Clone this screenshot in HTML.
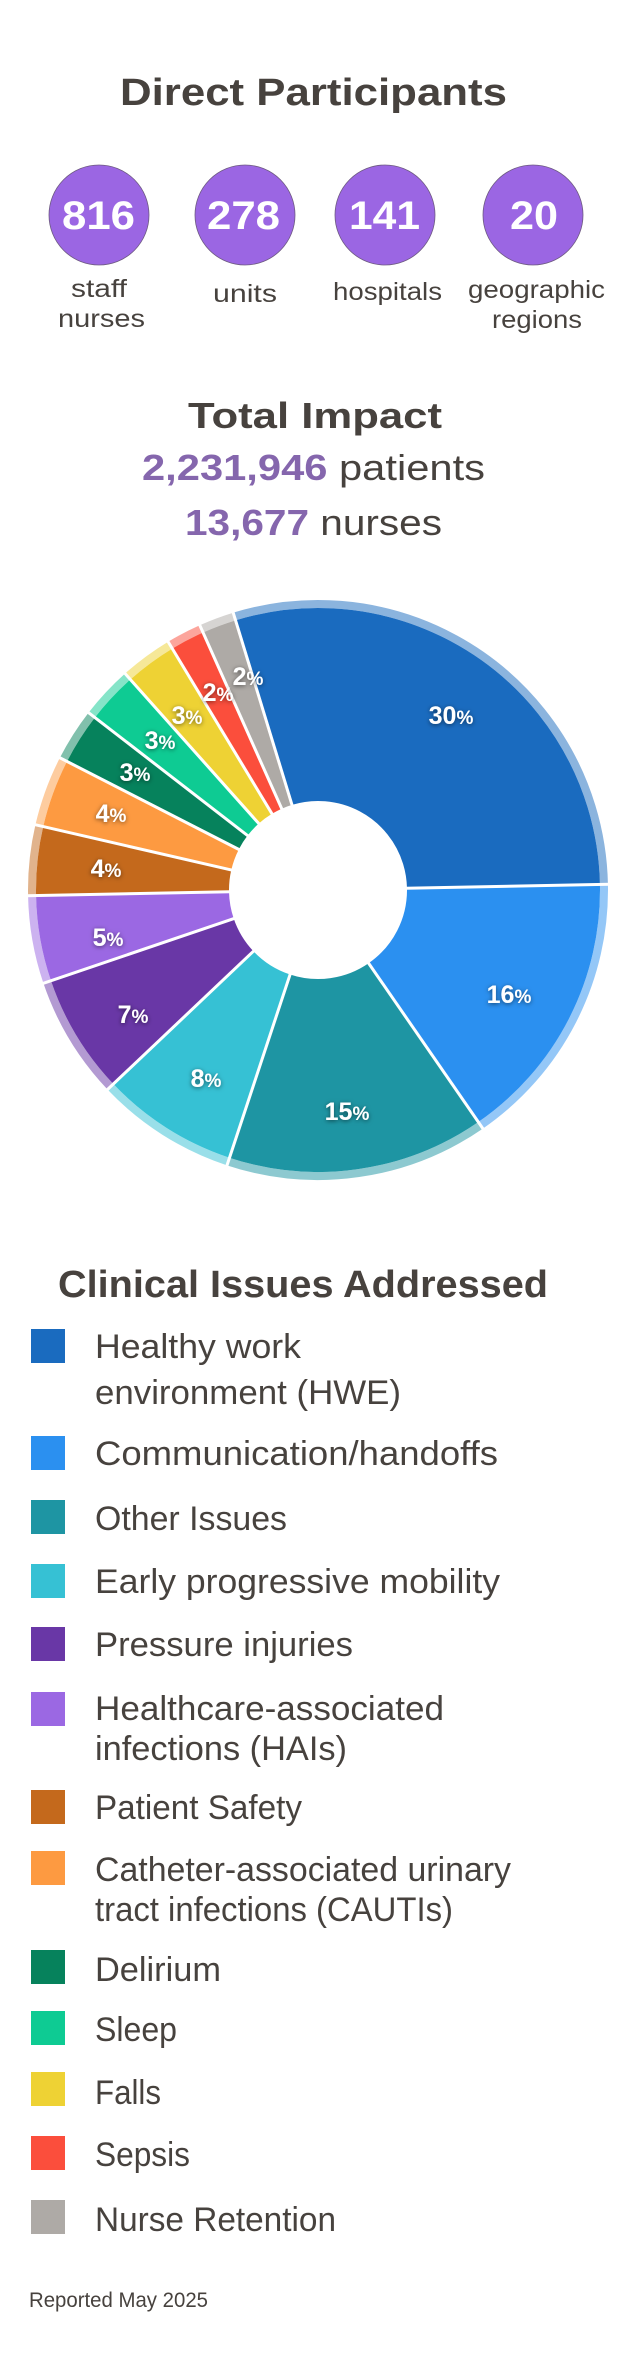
<!DOCTYPE html>
<html><head><meta charset="utf-8"><style>
html,body{margin:0;padding:0;background:#fff;}
svg{display:block;}
text{font-family:"Liberation Sans",sans-serif;}
</style></head><body>
<svg width="640" height="2379" viewBox="0 0 640 2379" xmlns="http://www.w3.org/2000/svg">
<defs>
<filter id="sh" x="-30%" y="-30%" width="160%" height="160%">
<feDropShadow dx="0" dy="1" stdDeviation="2.5" flood-color="#000" flood-opacity="0.55"/>
</filter>
</defs>
<rect width="640" height="2379" fill="#fff"/>

<text x="120" y="105" font-size="38" font-weight="bold" fill="#47423e" textLength="387" lengthAdjust="spacingAndGlyphs">Direct Participants</text>

<g fill="#9b66e3" stroke="#6d5a80" stroke-width="0.8">
<circle cx="99" cy="215" r="50"/><circle cx="245" cy="215" r="50"/><circle cx="385" cy="215" r="50"/><circle cx="533" cy="215" r="50"/>
</g>
<g font-size="40" font-weight="bold" fill="#fff">
<text x="62" y="229" textLength="73" lengthAdjust="spacingAndGlyphs">816</text>
<text x="207" y="229" textLength="73" lengthAdjust="spacingAndGlyphs">278</text>
<text x="349" y="229" textLength="71" lengthAdjust="spacingAndGlyphs">141</text>
<text x="510" y="229" textLength="48" lengthAdjust="spacingAndGlyphs">20</text>
</g>
<g font-size="25" fill="#47423e">
<text x="71" y="297" textLength="56" lengthAdjust="spacingAndGlyphs">staff</text>
<text x="58" y="327" textLength="87" lengthAdjust="spacingAndGlyphs">nurses</text>
<text x="213" y="302" textLength="64" lengthAdjust="spacingAndGlyphs">units</text>
<text x="333" y="300" textLength="109" lengthAdjust="spacingAndGlyphs">hospitals</text>
<text x="468" y="298" textLength="137" lengthAdjust="spacingAndGlyphs">geographic</text>
<text x="492" y="328" textLength="90" lengthAdjust="spacingAndGlyphs">regions</text>
</g>

<text x="188" y="428" font-size="36" font-weight="bold" fill="#47423e" textLength="254" lengthAdjust="spacingAndGlyphs">Total Impact</text>
<text x="142" y="480" font-size="36" fill="#47423e" textLength="343" lengthAdjust="spacingAndGlyphs"><tspan font-weight="bold" fill="#8566ad">2,231,946</tspan> patients</text>
<text x="185" y="535" font-size="36" fill="#47423e" textLength="257" lengthAdjust="spacingAndGlyphs"><tspan font-weight="bold" fill="#8566ad">13,677</tspan> nurses</text>

<g transform="translate(318,890)" fill="none">
<g stroke-width="8" opacity="0.5">
<circle r="286" stroke="#1a6bbf" stroke-dasharray="528.6 3000" transform="rotate(-107)"/>
<circle r="286" stroke="#2b90f0" stroke-dasharray="281.9 3000" transform="rotate(-1.12)"/>
<circle r="286" stroke="#1e95a3" stroke-dasharray="264.3 3000" transform="rotate(55.35)"/>
<circle r="286" stroke="#36c1d4" stroke-dasharray="141 3000" transform="rotate(108.29)"/>
<circle r="286" stroke="#6937a6" stroke-dasharray="123.3 3000" transform="rotate(136.53)"/>
<circle r="286" stroke="#9b68e3" stroke-dasharray="88.1 3000" transform="rotate(161.24)"/>
<circle r="286" stroke="#c4691c" stroke-dasharray="70.5 3000" transform="rotate(178.88)"/>
<circle r="286" stroke="#fd9a41" stroke-dasharray="70.5 3000" transform="rotate(193)"/>
<circle r="286" stroke="#06825c" stroke-dasharray="52.9 3000" transform="rotate(207.12)"/>
<circle r="286" stroke="#0ecb93" stroke-dasharray="52.9 3000" transform="rotate(217.71)"/>
<circle r="286" stroke="#eed234" stroke-dasharray="52.9 3000" transform="rotate(228.29)"/>
<circle r="286" stroke="#fb4e3c" stroke-dasharray="35.2 3000" transform="rotate(238.88)"/>
<circle r="286" stroke="#aeaaa6" stroke-dasharray="35.2 3000" transform="rotate(245.94)"/>
</g>
<g stroke-width="193">
<circle r="185.5" stroke="#1a6bbf" stroke-dasharray="342.8 3000" transform="rotate(-107)"/>
<circle r="185.5" stroke="#2b90f0" stroke-dasharray="182.8 3000" transform="rotate(-1.12)"/>
<circle r="185.5" stroke="#1e95a3" stroke-dasharray="171.4 3000" transform="rotate(55.35)"/>
<circle r="185.5" stroke="#36c1d4" stroke-dasharray="91.4 3000" transform="rotate(108.29)"/>
<circle r="185.5" stroke="#6937a6" stroke-dasharray="80 3000" transform="rotate(136.53)"/>
<circle r="185.5" stroke="#9b68e3" stroke-dasharray="57.1 3000" transform="rotate(161.24)"/>
<circle r="185.5" stroke="#c4691c" stroke-dasharray="45.7 3000" transform="rotate(178.88)"/>
<circle r="185.5" stroke="#fd9a41" stroke-dasharray="45.7 3000" transform="rotate(193)"/>
<circle r="185.5" stroke="#06825c" stroke-dasharray="34.3 3000" transform="rotate(207.12)"/>
<circle r="185.5" stroke="#0ecb93" stroke-dasharray="34.3 3000" transform="rotate(217.71)"/>
<circle r="185.5" stroke="#eed234" stroke-dasharray="34.3 3000" transform="rotate(228.29)"/>
<circle r="185.5" stroke="#fb4e3c" stroke-dasharray="22.9 3000" transform="rotate(238.88)"/>
<circle r="185.5" stroke="#aeaaa6" stroke-dasharray="22.9 3000" transform="rotate(245.94)"/>
</g>
<g stroke="#fff" stroke-width="3">
<line x1="0" y1="-88" x2="0" y2="-292" transform="rotate(-17)"/>
<line x1="0" y1="-88" x2="0" y2="-292" transform="rotate(88.88)"/>
<line x1="0" y1="-88" x2="0" y2="-292" transform="rotate(145.35)"/>
<line x1="0" y1="-88" x2="0" y2="-292" transform="rotate(198.29)"/>
<line x1="0" y1="-88" x2="0" y2="-292" transform="rotate(226.53)"/>
<line x1="0" y1="-88" x2="0" y2="-292" transform="rotate(251.24)"/>
<line x1="0" y1="-88" x2="0" y2="-292" transform="rotate(268.88)"/>
<line x1="0" y1="-88" x2="0" y2="-292" transform="rotate(283)"/>
<line x1="0" y1="-88" x2="0" y2="-292" transform="rotate(297.12)"/>
<line x1="0" y1="-88" x2="0" y2="-292" transform="rotate(307.71)"/>
<line x1="0" y1="-88" x2="0" y2="-292" transform="rotate(318.29)"/>
<line x1="0" y1="-88" x2="0" y2="-292" transform="rotate(328.88)"/>
<line x1="0" y1="-88" x2="0" y2="-292" transform="rotate(335.94)"/>
</g>
</g>

<g font-size="25" font-weight="bold" fill="#fff" text-anchor="middle" filter="url(#sh)" transform="translate(-2,-3)">
<text x="453" y="727">30<tspan font-size="19">%</tspan></text>
<text x="511" y="1006">16<tspan font-size="19">%</tspan></text>
<text x="349" y="1123">15<tspan font-size="19">%</tspan></text>
<text x="208" y="1090">8<tspan font-size="19">%</tspan></text>
<text x="135" y="1026">7<tspan font-size="19">%</tspan></text>
<text x="110" y="949">5<tspan font-size="19">%</tspan></text>
<text x="108" y="880">4<tspan font-size="19">%</tspan></text>
<text x="113" y="825">4<tspan font-size="19">%</tspan></text>
<text x="137" y="784">3<tspan font-size="19">%</tspan></text>
<text x="162" y="752">3<tspan font-size="19">%</tspan></text>
<text x="189" y="727">3<tspan font-size="19">%</tspan></text>
<text x="220" y="704">2<tspan font-size="19">%</tspan></text>
<text x="250" y="688">2<tspan font-size="19">%</tspan></text>
</g>

<text x="58" y="1297" font-size="38" font-weight="bold" fill="#47423e" textLength="490" lengthAdjust="spacingAndGlyphs">Clinical Issues Addressed</text>

<g>
<rect x="31" y="1329" width="34" height="34" fill="#1a6bbf"/>
<rect x="31" y="1436" width="34" height="34" fill="#2b90f0"/>
<rect x="31" y="1500" width="34" height="34" fill="#1e95a3"/>
<rect x="31" y="1564" width="34" height="34" fill="#36c1d4"/>
<rect x="31" y="1627" width="34" height="34" fill="#6937a6"/>
<rect x="31" y="1692" width="34" height="34" fill="#9b68e3"/>
<rect x="31" y="1790" width="34" height="34" fill="#c4691c"/>
<rect x="31" y="1851" width="34" height="34" fill="#fd9a41"/>
<rect x="31" y="1950" width="34" height="34" fill="#06825c"/>
<rect x="31" y="2011" width="34" height="34" fill="#0ecb93"/>
<rect x="31" y="2072" width="34" height="34" fill="#eed234"/>
<rect x="31" y="2136" width="34" height="34" fill="#fb4e3c"/>
<rect x="31" y="2200" width="34" height="34" fill="#aeaaa6"/>
</g>
<g font-size="34" fill="#47423e">
<text x="95" y="1358" textLength="206" lengthAdjust="spacingAndGlyphs">Healthy work</text>
<text x="95" y="1404" textLength="306" lengthAdjust="spacingAndGlyphs">environment (HWE)</text>
<text x="95" y="1465" textLength="403" lengthAdjust="spacingAndGlyphs">Communication/handoffs</text>
<text x="95" y="1530" textLength="192" lengthAdjust="spacingAndGlyphs">Other Issues</text>
<text x="95" y="1593" textLength="405" lengthAdjust="spacingAndGlyphs">Early progressive mobility</text>
<text x="95" y="1656" textLength="258" lengthAdjust="spacingAndGlyphs">Pressure injuries</text>
<text x="95" y="1720" textLength="349" lengthAdjust="spacingAndGlyphs">Healthcare-associated</text>
<text x="95" y="1760" textLength="252" lengthAdjust="spacingAndGlyphs">infections (HAIs)</text>
<text x="95" y="1819" textLength="207" lengthAdjust="spacingAndGlyphs">Patient Safety</text>
<text x="95" y="1881" textLength="416" lengthAdjust="spacingAndGlyphs">Catheter-associated urinary</text>
<text x="95" y="1921" textLength="358" lengthAdjust="spacingAndGlyphs">tract infections (CAUTIs)</text>
<text x="95" y="1981" textLength="126" lengthAdjust="spacingAndGlyphs">Delirium</text>
<text x="95" y="2041" textLength="82" lengthAdjust="spacingAndGlyphs">Sleep</text>
<text x="95" y="2104" textLength="66" lengthAdjust="spacingAndGlyphs">Falls</text>
<text x="95" y="2166" textLength="95" lengthAdjust="spacingAndGlyphs">Sepsis</text>
<text x="95" y="2231" textLength="241" lengthAdjust="spacingAndGlyphs">Nurse Retention</text>
</g>
<text x="29" y="2307" font-size="21" fill="#47423e" textLength="179" lengthAdjust="spacingAndGlyphs">Reported May 2025</text>
</svg>
</body></html>
